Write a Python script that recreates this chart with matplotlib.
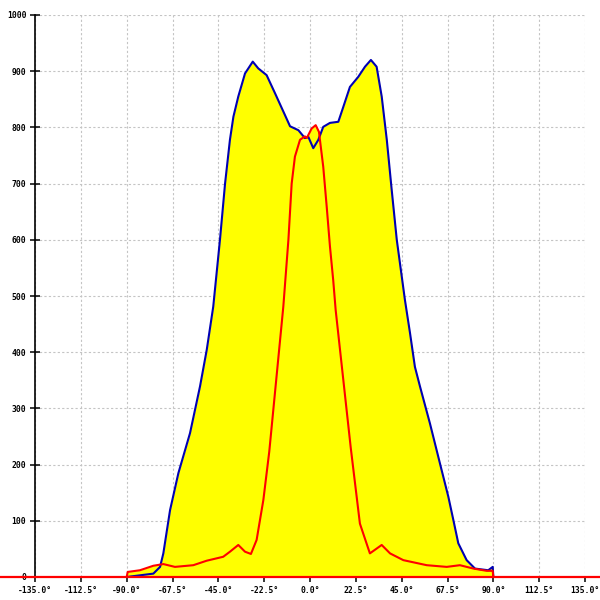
import numpy as np
import matplotlib.pyplot as plt
from matplotlib.lines import Line2D

# angle (deg) / intensity for the outer (blue) curve
blue_deg = [-90, -76.9, -73.6, -72, -68.7, -64.6, -58.9, -54, -50.7, -47.5,
            -44.2, -41.7, -39.3, -37.6, -35.2, -31.9, -28.1, -25.4, -21.3, -17.2,
            -12.3, -9.8, -5.7, -2.5, -0.8, 1.6, 4.1, 6.5, 9.8, 13.9,
            16.4, 19.6, 23.7, 27, 29.9, 32.7, 35.2, 37.7, 40.1, 42.6,
            46.6, 49.1, 51.5, 54, 58.9, 63.8, 67.9, 70.4, 72.8, 76.9,
            81, 87.5, 89.7, 90]
blue_val = [0, 6, 18, 42, 119, 185, 256, 339, 404, 481,
            600, 700, 778, 819, 855, 896, 917, 905, 893, 861,
            822, 802, 795, 781, 783, 763, 778, 801, 808, 810,
            837, 872, 890, 908, 920, 908, 855, 778, 689, 600,
            493, 434, 374, 339, 273, 202, 143, 101, 60, 30,
            15, 12, 18, 0]

# inner (red) curve
red_deg = [-90, -89.5, -83.5, -76.9, -72, -66.3, -57.3, -50.7, -42.6, -39.3,
           -35.2, -31.9, -29, -26.2, -22.9, -20, -13.1, -10.6, -9, -7.4,
           -4.9, -2.5, -1.6, 0.8, 2.8, 4.4, 6.5, 8.2, 9.8, 11.4,
           12.6, 20, 24.5, 29.4, 35.2, 39.3, 45.8, 57.3, 67.1, 73.6,
           80.2, 86.7, 89.7, 90]
red_val = [0, 9, 12, 20, 23, 18, 21, 29, 36, 45,
           57, 45, 41, 66, 137, 223, 481, 600, 700, 748,
           778, 784, 781, 798, 804, 792, 730, 659, 588, 528,
           475, 230, 95, 42, 57, 42, 30, 21, 18, 21,
           15, 11, 11, 0]

xticks = np.arange(-135, 135.1, 22.5)
xlabels = ['%.1f°' % t for t in xticks]
yticks = np.arange(0, 1001, 100)

fig = plt.figure(figsize=(6, 6), dpi=100)
ax = fig.add_axes([35/600, 23/600, 550/600, 562/600])

ax.fill_between(blue_deg, blue_val, 0, color='#ffff00', lw=0, zorder=1)
ax.fill_between(red_deg, red_val, 0, color='#ffff00', lw=0, zorder=1)
ax.grid(True, color='#c4c4c4', linestyle=(0, (2, 2)), linewidth=0.8, zorder=0)
ax.set_axisbelow(True)
ax.plot(blue_deg, blue_val, color='#0000b4', lw=1.5, zorder=3)
ax.plot(red_deg, red_val, color='#ff0000', lw=1.5, zorder=4)

ax.set_xlim(-135, 135)
ax.set_ylim(0, 1000)
ax.set_xticks(xticks)
ax.set_xticklabels(xlabels)
ax.set_yticks(yticks)

for s in ['top', 'right', 'bottom']:
    ax.spines[s].set_visible(False)
ax.spines['left'].set_linewidth(1.2)

fnt = dict(family='DejaVu Sans Mono', size=5.8, weight='bold')
ax.tick_params(axis='y', direction='inout', length=6.5, width=1.1, pad=3)
ax.tick_params(axis='x', direction='out', length=3.8, width=1.1, pad=2.5)
for lab in ax.get_xticklabels() + ax.get_yticklabels():
    lab.set_fontproperties(fnt['family'])
    lab.set_fontsize(fnt['size'])
    lab.set_fontweight(fnt['weight'])

# red baseline running across the whole picture
fig.add_artist(Line2D([0, 1], [23/600, 23/600], color='#ff0000', lw=1.6,
                      transform=fig.transFigure, zorder=5))

fig.savefig('out.png', dpi=100)
